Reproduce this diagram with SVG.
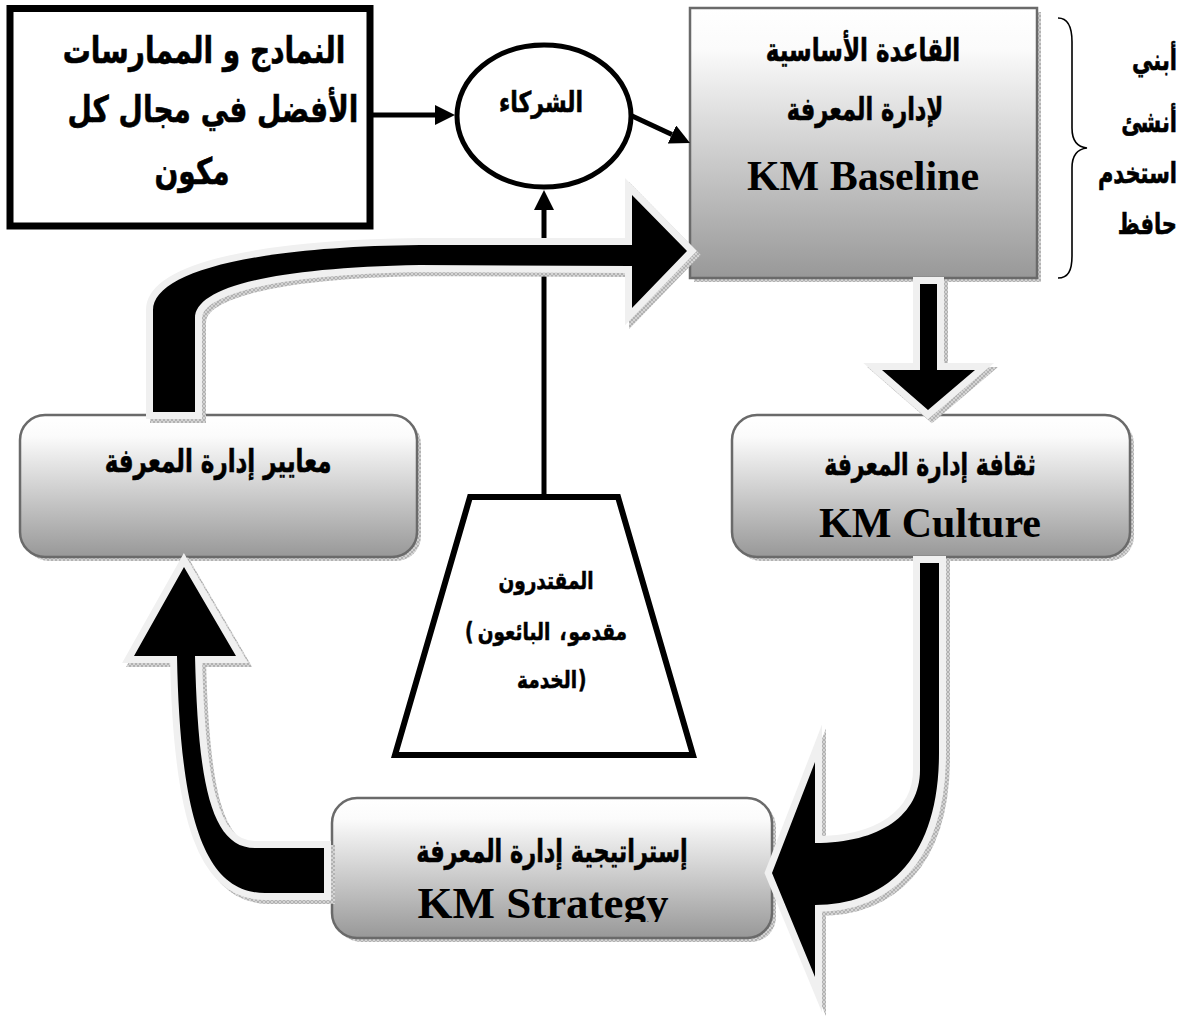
<svg xmlns="http://www.w3.org/2000/svg" width="1181" height="1022" viewBox="0 0 1181 1022">
  <defs>
    <style>
      .ar { font-family: "DejaVu Sans", sans-serif; font-weight: bold; fill: #000; stroke: #000; stroke-width: 0.45; text-anchor: middle; }
      .br { direction: ltr; unicode-bidi: bidi-override; text-anchor: start; }
      .en { font-family: "Liberation Serif", serif; font-weight: bold; fill: #000; text-anchor: middle; }
      .box { fill: url(#boxGrad); stroke: #6a6a6a; stroke-width: 2.5; }
      .shadow { fill: url(#hatch); }
      .bigArrow { fill: #000; stroke: #f0f0f0; stroke-width: 14; stroke-linejoin: miter; stroke-miterlimit: 6; paint-order: stroke; }
      .bigShadow { fill: url(#hatch); stroke: url(#hatch); stroke-width: 14; stroke-linejoin: miter; stroke-miterlimit: 6; }
      .thin { stroke: #000; stroke-width: 5; fill: none; }
      .outline { fill: #fff; stroke: #000; }
    </style>
    <linearGradient id="boxGrad" x1="0" y1="0" x2="0" y2="1">
      <stop offset="0" stop-color="#ffffff"/>
      <stop offset="0.15" stop-color="#fbfbfb"/>
      <stop offset="1" stop-color="#989898"/>
    </linearGradient>
    <pattern id="hatch" width="4" height="4" patternUnits="userSpaceOnUse">
      <rect width="4" height="4" fill="#d4d4d4"/>
      <path d="M0 0 L4 4 M4 0 L0 4" stroke="#a4a4a4" stroke-width="0.7"/>
    </pattern>
    <marker id="head" viewBox="0 -10 20 20" refX="0" refY="0" markerWidth="20" markerHeight="20" markerUnits="userSpaceOnUse" orient="auto">
      <path d="M0 -10 L20 0 L0 10 Z" fill="#000"/>
    </marker>
    <clipPath id="strategyClip">
      <rect x="332" y="798" width="440" height="124"/>
    </clipPath>
  </defs>

  <rect width="1181" height="1022" fill="#fff"/>

  <!-- node: best models and practices -->
  <g id="node-practices">
    <rect class="outline" x="10" y="8.5" width="360" height="217.5" stroke-width="7"/>
    <text class="ar" transform="translate(204 63) scale(1 1.3)" font-size="28">النمادج و الممارسات</text>
    <text class="ar" transform="translate(213 122) scale(1 1.3)" font-size="28">الأفضل في مجال كل</text>
    <text class="ar" transform="translate(192 184) scale(1 1.3)" font-size="28">مكون</text>
  </g>

  <!-- node: partners -->
  <g id="node-partners">
    <ellipse class="outline" cx="544" cy="116" rx="87" ry="71" stroke-width="5"/>
    <text class="ar" transform="translate(541 112) scale(1 1.3)" font-size="22">الشركاء</text>
  </g>

  <!-- node: KM baseline -->
  <g id="node-baseline">
    <rect class="shadow" x="694" y="12" width="347" height="270"/>
    <rect class="box" x="690" y="8" width="347" height="270"/>
    <text class="ar" transform="translate(863 61) scale(1 1.4)" font-size="23">القاعدة الأساسية</text>
    <text class="ar" transform="translate(865 120) scale(1 1.4)" font-size="22.5">لإدارة المعرفة</text>
    <text class="en" x="863" y="190" font-size="42">KM Baseline</text>
  </g>

  <!-- phases bracket -->
  <g id="node-phases">
    <path d="M1058 18 C1068 18 1072 26 1072 42 L1072 128 C1072 140 1077 147 1087 148 C1077 149 1072 156 1072 168 L1072 256 C1072 271 1068 278 1058 278" fill="none" stroke="#000" stroke-width="1.6"/>
    <text class="ar" transform="translate(1177 70) scale(1 1.4)" font-size="21" style="text-anchor:end">أبني</text>
    <text class="ar" transform="translate(1177 132) scale(1 1.4)" font-size="21" style="text-anchor:end">أنشئ</text>
    <text class="ar" transform="translate(1177 183) scale(1 1.4)" font-size="21" style="text-anchor:end">استخدم</text>
    <text class="ar" transform="translate(1177 234) scale(1 1.4)" font-size="21" style="text-anchor:end">حافظ</text>
  </g>

  <!-- node: KM culture -->
  <g id="node-culture">
    <rect class="shadow" x="736" y="419" width="398" height="142" rx="25"/>
    <rect class="box" x="732" y="415" width="398" height="142" rx="25"/>
    <text class="ar" transform="translate(930 475) scale(1 1.4)" font-size="22">ثقافة إدارة المعرفة</text>
    <text class="en" x="930" y="537" font-size="42">KM Culture</text>
  </g>

  <!-- node: KM standards -->
  <g id="node-standards">
    <rect class="shadow" x="24" y="419" width="397" height="142" rx="25"/>
    <rect class="box" x="20" y="415" width="397" height="142" rx="25"/>
    <text class="ar" transform="translate(218 472) scale(1 1.4)" font-size="23">معايير إدارة المعرفة</text>
  </g>

  <!-- node: KM strategy -->
  <g id="node-strategy">
    <rect class="shadow" x="336" y="802" width="440" height="140" rx="25"/>
    <rect class="box" x="332" y="798" width="440" height="140" rx="25"/>
    <text class="ar" transform="translate(552 862) scale(1 1.4)" font-size="22.4">إستراتيجية إدارة المعرفة</text>
    <text class="en" x="543" y="918" font-size="45" clip-path="url(#strategyClip)">KM Strategy</text>
  </g>

  <!-- node: suppliers (lines 2 and 3 set piece by piece so the brackets sit where printed) -->
  <g id="node-suppliers">
    <polygon class="outline" points="470,497 618,497 693,755 395,755" stroke-width="6" stroke-linejoin="miter"/>
    <text class="ar" transform="translate(546 589) scale(1 1.3)" font-size="18.5">المقتدرون</text>
    <text class="ar br" transform="translate(465 640) scale(1 1.3)" font-size="18.5">(</text>
    <text class="ar" transform="translate(514 640) scale(1 1.3)" font-size="18.5">البائعون</text>
    <text class="ar" transform="translate(563 640) scale(1 1.3)" font-size="18.5">،</text>
    <text class="ar" transform="translate(627 640) scale(1 1.3)" font-size="18.5" style="text-anchor:end">مقدمو</text>
    <text class="ar" transform="translate(547 688) scale(1 1.3)" font-size="18.5">الخدمة</text>
    <text class="ar br" transform="translate(578 688) scale(1 1.3)" font-size="18.5">)</text>
  </g>

  <!-- connectors -->
  <g id="connectors">
    <!-- thin arrows into and out of the partners node -->
    <line class="thin" x1="373" y1="115" x2="435" y2="115" marker-end="url(#head)"/>
    <line class="thin" x1="630" y1="115" x2="671.9" y2="134.5" marker-end="url(#head)"/>
    <line class="thin" x1="544" y1="494" x2="544" y2="210" marker-end="url(#head)"/>

    <!-- standards -> baseline -->
    <path class="bigShadow" transform="translate(4,4)" d="M153 412 L153 310 C153 275 240 247 420 245 L632 245 L632 195 L687 251 L632 308 L632 266 L420 265 C260 268 195 290 195 318 L195 412 Z"/>
    <path class="bigArrow" d="M153 412 L153 310 C153 275 240 247 420 245 L632 245 L632 195 L687 251 L632 308 L632 266 L420 265 C260 268 195 290 195 318 L195 412 Z"/>

    <!-- baseline -> culture -->
    <path class="bigShadow" transform="translate(4,4)" d="M920 284 L937 284 L937 370 L975 370 L928 410 L882 370 L920 370 Z"/>
    <path class="bigArrow" d="M920 284 L937 284 L937 370 L975 370 L928 410 L882 370 L920 370 Z"/>

    <!-- culture -> strategy -->
    <path class="bigShadow" transform="translate(4,4)" d="M920 563 L939 563 L939 753 C939 860 885 905 815 905 L815 977 L772 873 L815 762 L815 843 C880 843 920 815 920 770 Z"/>
    <path class="bigArrow" d="M920 563 L939 563 L939 753 C939 860 885 905 815 905 L815 977 L772 873 L815 762 L815 843 C880 843 920 815 920 770 Z"/>

    <!-- strategy -> standards -->
    <path class="bigShadow" transform="translate(4,4)" d="M324 848 L324 893 L265 893 C205 893 180 820 177 656 L134 656 L184 567 L236 656 L195 656 C198 780 210 848 255 848 Z"/>
    <path class="bigArrow" d="M324 848 L324 893 L265 893 C205 893 180 820 177 656 L134 656 L184 567 L236 656 L195 656 C198 780 210 848 255 848 Z"/>
  </g>
</svg>
